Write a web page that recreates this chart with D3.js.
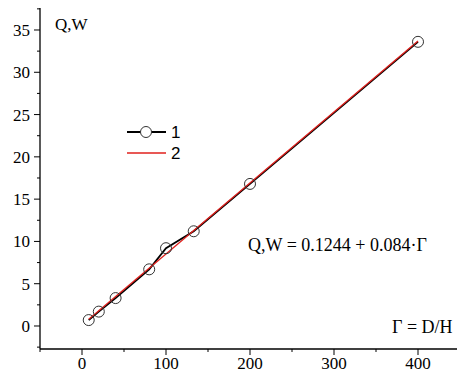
<!DOCTYPE html>
<html>
<head>
<meta charset="utf-8">
<script src="https://cdn.jsdelivr.net/npm/d3@7"></script>
<style>
  body { margin: 0; background: #fff; }
  svg text { font-family: "Liberation Serif", "Times New Roman", serif; }
</style>
</head>
<body>
<div id="chart"></div>
<script>
// measured points (curve 1)
var gammaVals = [8, 20, 40, 80, 100, 133, 200, 400];
var qwVals = [0.7, 1.7, 3.3, 6.7, 9.2, 11.2, 16.8, 33.6];
// fitted line (curve 2) end points
var fitGamma = [8, 400];
var fitQW = [0.8, 33.7];
var xTicks = [0, 100, 200, 300, 400];
var yTicks = [0, 5, 10, 15, 20, 25, 30, 35];

var chartW = 457, chartH = 372;
var axisLeft = 40, axisTop = 8, axisBottom = 349;

var svg = d3.select("#chart").append("svg")
    .attr("width", chartW)
    .attr("height", chartH);

var x = d3.scaleLinear().domain([-50, 450]).range([axisLeft, axisLeft + 420]);
var y = d3.scaleLinear().domain([-2.72, 37.6]).range([axisBottom, axisTop]);

// x axis
var gx = svg.append("g").attr("transform", "translate(0," + axisBottom + ")");
gx.append("line").attr("x1", axisLeft).attr("x2", chartW).attr("stroke", "#000").attr("stroke-width", 1.3);
gx.selectAll(".minor").data(d3.range(-50, 451, 100)).enter().append("line")
    .attr("x1", d => x(d)).attr("x2", d => x(d))
    .attr("y1", 0).attr("y2", 3).attr("stroke", "#000");
gx.selectAll(".major").data(xTicks).enter().append("line")
    .attr("x1", d => x(d)).attr("x2", d => x(d))
    .attr("y1", 0).attr("y2", 6).attr("stroke", "#000");
gx.selectAll("text").data(xTicks).enter().append("text")
    .attr("x", d => x(d)).attr("y", 20)
    .attr("text-anchor", "middle").attr("font-size", 17)
    .text(d => d);

// y axis
var gy = svg.append("g").attr("transform", "translate(" + axisLeft + ",0)");
gy.append("line").attr("y1", axisTop).attr("y2", axisBottom).attr("stroke", "#000").attr("stroke-width", 1.3);
gy.selectAll(".minor").data(d3.range(-2.5, 37.6, 5)).enter().append("line")
    .attr("y1", d => y(d)).attr("y2", d => y(d))
    .attr("x1", 0).attr("x2", -3).attr("stroke", "#000");
gy.selectAll(".major").data(yTicks).enter().append("line")
    .attr("y1", d => y(d)).attr("y2", d => y(d))
    .attr("x1", 0).attr("x2", -6).attr("stroke", "#000");
gy.selectAll("text").data(yTicks).enter().append("text")
    .attr("x", -10).attr("y", d => y(d) + 6)
    .attr("text-anchor", "end").attr("font-size", 17)
    .text(d => d);

var line = d3.line().x(d => x(d[0])).y(d => y(d[1]));
var pts = d3.zip(gammaVals, qwVals);

svg.append("path").datum(pts)
    .attr("d", line)
    .attr("fill", "none").attr("stroke", "#000").attr("stroke-width", 1.8);

svg.append("path").datum(d3.zip(fitGamma, fitQW))
    .attr("d", line)
    .attr("fill", "none").attr("stroke", "#e0201c").attr("stroke-width", 1.3);

svg.selectAll(".pt").data(pts).enter().append("circle")
    .attr("cx", d => x(d[0])).attr("cy", d => y(d[1]))
    .attr("r", 5.5)
    .attr("fill", "none").attr("stroke", "#333").attr("stroke-width", 1);

// legend
var lg = svg.append("g");
lg.append("line").attr("x1", 127).attr("x2", 166).attr("y1", 132).attr("y2", 132)
    .attr("stroke", "#000").attr("stroke-width", 1.8);
lg.append("circle").attr("cx", 146).attr("cy", 132).attr("r", 5.5)
    .attr("fill", "#fff").attr("stroke", "#333");
lg.append("line").attr("x1", 127).attr("x2", 166).attr("y1", 153).attr("y2", 153)
    .attr("stroke", "#e0201c").attr("stroke-width", 1.3);
lg.append("text").attr("x", 171).attr("y", 138).attr("font-size", 17)
    .style("font-family", "'Liberation Sans', Arial, sans-serif").text("1");
lg.append("text").attr("x", 171).attr("y", 159).attr("font-size", 17)
    .style("font-family", "'Liberation Sans', Arial, sans-serif").text("2");

// labels
svg.append("text").attr("x", 55).attr("y", 30).attr("font-size", 17).text("Q,W");
svg.append("text").attr("x", 248).attr("y", 251).attr("font-size", 18)
    .text("Q,W = 0.1244 + 0.084\u00b7\u0393");
svg.append("text").attr("x", 392).attr("y", 333).attr("font-size", 18)
    .text("\u0393 = D/H");
</script>
</body>
</html>
